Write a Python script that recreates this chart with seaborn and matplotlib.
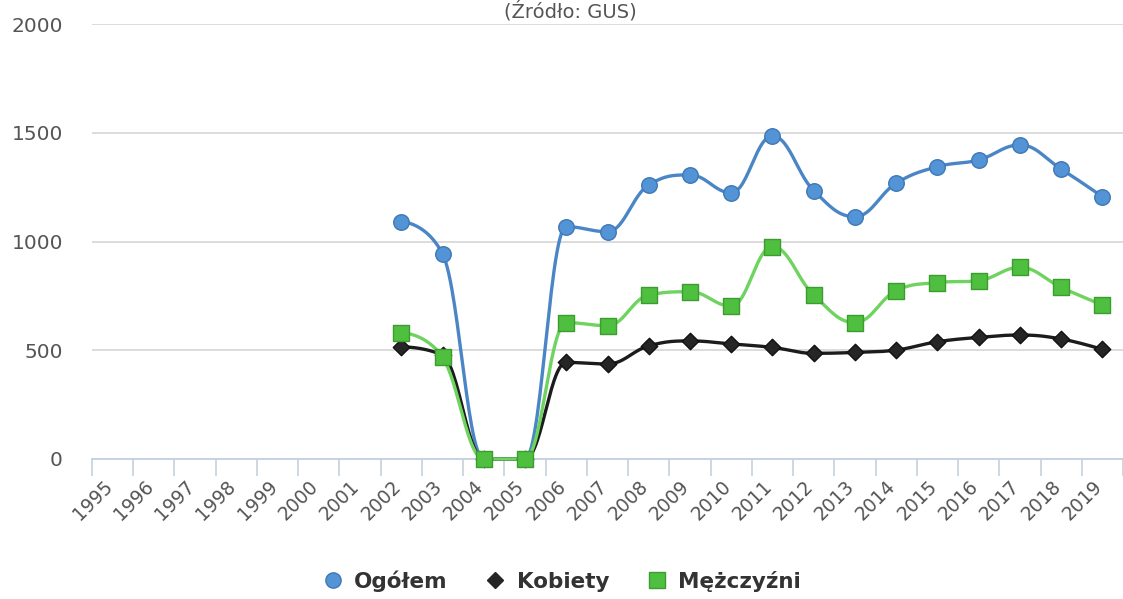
import numpy as np
import pandas as pd
import matplotlib
matplotlib.use("Agg")
import matplotlib.pyplot as plt
import matplotlib.transforms as mtransforms
from matplotlib.lines import Line2D
import seaborn as sns

# Data
years = [str(y) for y in range(1995, 2020)]
data_years = list(range(2002, 2020))
ogolem = [1091, 943, 0, 0, 1068, 1045, 1260, 1306, 1224, 1485,
          1234, 1114, 1268, 1344, 1375, 1444, 1333, 1206]
kobiety = [516, 476, 0, 0, 444, 437, 520, 543, 529, 513,
           486, 490, 501, 539, 559, 570, 552, 504]
mezczyzni = [581, 467, 0, 0, 627, 613, 754, 769, 703, 976,
             754, 627, 774, 811, 820, 881, 789, 708]
yticks = [0, 500, 1000, 1500, 2000]


def spline_points(xs, ys, n=30):
    """Highcharts-style spline: cubic bezier through points with smoothed controls."""
    xs = np.asarray(xs, float)
    ys = np.asarray(ys, float)
    k = len(xs)
    smoothing, denom = 1.5, 2.5
    left = [(xs[i], ys[i]) for i in range(k)]
    right = [(xs[i], ys[i]) for i in range(k)]
    for i in range(1, k - 1):
        px, py = xs[i], ys[i]
        lx, ly = xs[i - 1], ys[i - 1]
        nx, ny = xs[i + 1], ys[i + 1]
        lcx = (smoothing * px + lx) / denom
        lcy = (smoothing * py + ly) / denom
        rcx = (smoothing * px + nx) / denom
        rcy = (smoothing * py + ny) / denom
        if rcx != lcx:
            corr = (rcy - lcy) * (rcx - px) / (rcx - lcx) + py - rcy
            lcy += corr
            rcy += corr
        if lcy > ly and lcy > py:
            lcy = max(ly, py)
            rcy = 2 * py - lcy
        elif lcy < ly and lcy < py:
            lcy = min(ly, py)
            rcy = 2 * py - lcy
        if rcy > ny and rcy > py:
            rcy = max(ny, py)
            lcy = 2 * py - rcy
        elif rcy < ny and rcy < py:
            rcy = min(ny, py)
            lcy = 2 * py - rcy
        left[i] = (lcx, lcy)
        right[i] = (rcx, rcy)
    t = np.linspace(0, 1, n)
    outx, outy = [], []
    for i in range(k - 1):
        p0 = np.array([xs[i], ys[i]])
        p1 = np.array(right[i])
        p2 = np.array(left[i + 1])
        p3 = np.array([xs[i + 1], ys[i + 1]])
        b = ((1 - t) ** 3)[:, None] * p0 + (3 * (1 - t) ** 2 * t)[:, None] * p1 \
            + (3 * (1 - t) * t ** 2)[:, None] * p2 + (t ** 3)[:, None] * p3
        outx.extend(b[:, 0])
        outy.extend(b[:, 1])
    return np.array(outx), np.array(outy)


sns.set_theme(style="white")
plt.rcParams['font.family'] = ['DejaVu Sans']

fig = plt.figure(figsize=(11.23, 5.99), dpi=100)
ax = fig.add_axes([92 / 1123, 1 - 459 / 599, 1 - 92 / 1123, (459 - 24) / 599])

xpos = [years.index(str(y)) for y in data_years]

series = [
    ("Ogółem", ogolem, "#4a86c5", "#5394d6", "#3f78b5", "o", 125),
    ("Kobiety", kobiety, "#1c1c1c", "#262626", "#111111", "D", 70),
    ("Mężczyźni", mezczyzni, "#6fd35f", "#4fbf3f", "#3c9c30", "s", 125),
]

for name, vals, lc, fc, ec, mk, size in series:
    sx, sy = spline_points(xpos, vals)
    sns.lineplot(x=sx, y=sy, sort=False, estimator=None, color=lc, lw=2.4,
                 ax=ax, clip_on=False, zorder=3)
    df = pd.DataFrame({"x": xpos, "y": vals})
    sns.scatterplot(data=df, x="x", y="y", marker=mk, s=size, color=fc,
                    edgecolor=ec, linewidth=1, ax=ax, clip_on=False, zorder=4)

ax.set_xlim(-0.5, (1123 - 113) / 41.6)
ax.set_ylim(0, 2000)
ax.set_xlabel("")
ax.set_ylabel("")

ax.set_xticks(range(len(years)))
ax.set_xticklabels(years, rotation=45, ha="right", rotation_mode="anchor",
                   fontsize=13.5, color="#555555")
ax.set_xticks(np.arange(-0.5, len(years), 1.0), minor=True)
ax.tick_params(axis="x", which="major", length=0, pad=9)
ax.tick_params(axis="x", which="minor", length=12, width=1.2, color="#c3d1e0",
               bottom=True)

ax.set_yticks(yticks)
ax.set_yticklabels([str(v) for v in yticks], fontsize=14.5, color="#555555")
ax.tick_params(axis="y", length=0, pad=21)

# nudge the rotated year labels so they end under the category centre
shift = mtransforms.ScaledTranslation(-10 / 100, -5 / 100, fig.dpi_scale_trans)
for lbl in ax.get_xticklabels():
    lbl.set_transform(lbl.get_transform() + shift)

ax.yaxis.grid(True, color="#d9d9d9", lw=1.3)
ax.xaxis.grid(False)
for side in ["top", "right", "left"]:
    ax.spines[side].set_visible(False)
ax.spines["bottom"].set_color("#c3d1e0")
ax.spines["bottom"].set_linewidth(1.3)
ax.set_axisbelow(True)

fig.text(570 / 1123, 1 - 17 / 599, "(Źródło: GUS)", ha="center", va="baseline",
         fontsize=14, color="#555555")

handles = [
    Line2D([], [], marker="o", ls="", color="#5394d6", markeredgecolor="#3f78b5", markersize=11),
    Line2D([], [], marker="D", ls="", color="#262626", markersize=8),
    Line2D([], [], marker="s", ls="", color="#4fbf3f", markeredgecolor="#3c9c30", markersize=11),
]
leg = fig.legend(handles, ["Ogółem", "Kobiety", "Mężczyźni"], loc="center",
                 bbox_to_anchor=(0.5, 1 - 581 / 599), ncol=3, frameon=False,
                 prop={"weight": "bold", "size": 15.5}, handletextpad=0.5,
                 columnspacing=1.7, handlelength=1.0)
for t in leg.get_texts():
    t.set_color("#333333")

fig.savefig("out.png", dpi=100)
